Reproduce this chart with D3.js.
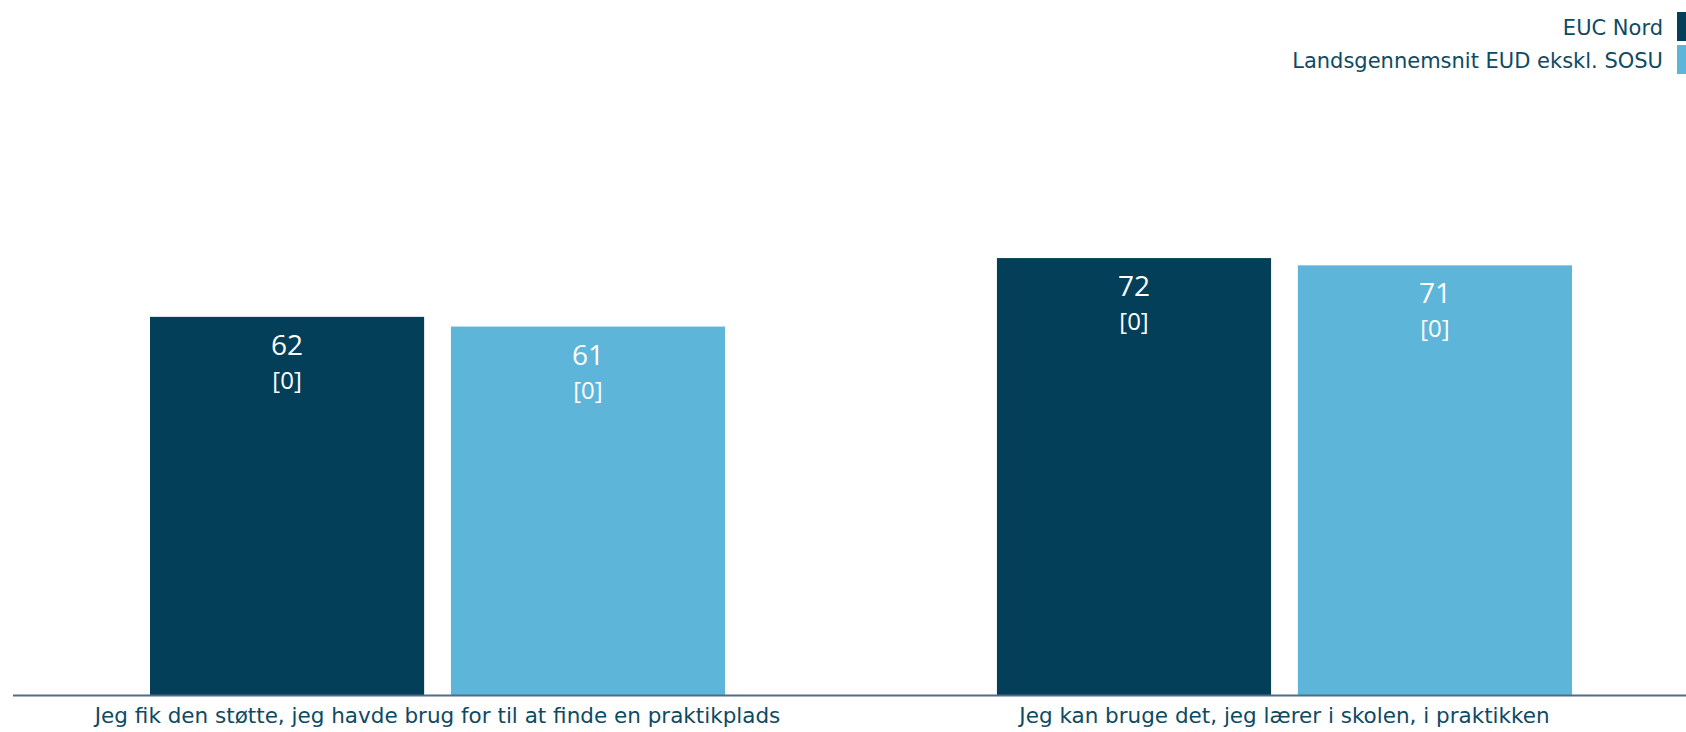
<!DOCTYPE html>
<html>
<head>
<meta charset="utf-8">
<script src="https://cdn.jsdelivr.net/npm/d3@7"></script>
<style>
  html, body { margin: 0; padding: 0; background: #ffffff; }
  svg { display: block; }
</style>
</head>
<body>
<svg id="chart" width="1686" height="732"></svg>
<script>
// ---- data ----
const categories = [
  "Jeg fik den støtte, jeg havde brug for til at finde en praktikplads",
  "Jeg kan bruge det, jeg lærer i skolen, i praktikken"
];
const seriesNames = ["EUC Nord", "Landsgennemsnit EUD ekskl. SOSU"];
const eucNord = [62.4, 72.1];
const landsgennemsnit = [60.8, 70.9];
const counts = [[0, 0], [0, 0]]; // [series][category]
const colors = ["#033f58", "#5eb5da"];

// ---- layout ----
const svg = d3.select("#chart");
const W = 1686, H = 732;
const baseY = 695;

const x0 = d3.scaleBand().domain(categories).range([150, 1572]).paddingInner(0.321);
const x1 = d3.scaleBand().domain(seriesNames).range([0, x0.bandwidth()]).paddingInner(0.089);
const y = d3.scaleLinear().domain([0, 100]).range([baseY, baseY - 606]);

const series = [eucNord, landsgennemsnit];
const rows = [];
categories.forEach((c, ci) => {
  seriesNames.forEach((s, si) => {
    rows.push({ cat: c, ser: s, si, value: series[si][ci], n: counts[si][ci] });
  });
});

const fmt = d3.format(".0f");

const g = svg.append("g");
const bars = g.selectAll("g.bar").data(rows).enter().append("g").attr("class", "bar");
bars.append("rect")
  .attr("x", d => x0(d.cat) + x1(d.ser))
  .attr("y", d => y(d.value))
  .attr("width", x1.bandwidth())
  .attr("height", d => y(0) - y(d.value))
  .attr("fill", d => colors[d.si]);

bars.append("text")
  .attr("x", d => x0(d.cat) + x1(d.ser) + x1.bandwidth() / 2)
  .attr("y", d => y(d.value) + 38)
  .attr("text-anchor", "middle")
  .attr("font-family", "'Open Sans', sans-serif")
  .attr("font-size", 28)
  .attr("fill", "#ffffff")
  .text(d => fmt(d.value));

bars.append("text")
  .attr("x", d => x0(d.cat) + x1(d.ser) + x1.bandwidth() / 2)
  .attr("y", d => y(d.value) + 72)
  .attr("text-anchor", "middle")
  .attr("font-family", "'Open Sans', sans-serif")
  .attr("font-size", 24)
  .attr("fill", "#ffffff")
  .text(d => "[" + d.n + "]");

// axis
const axisScale = d3.scaleBand().domain(categories).range(x0.range()).paddingInner(x0.paddingInner());
const axis = d3.axisBottom(axisScale).tickSize(0).tickPadding(0);
const ax = svg.append("g").attr("transform", `translate(0,${baseY})`).call(axis);
ax.select(".domain").remove();
ax.selectAll("text")
  .attr("y", 28)
  .attr("dy", null)
  .attr("font-family", "'DejaVu Sans', Verdana, sans-serif")
  .attr("font-size", 21.5)
  .attr("fill", "#0e4a63");
svg.append("line")
  .attr("x1", 13).attr("x2", W)
  .attr("y1", baseY + 0.5).attr("y2", baseY + 0.5)
  .attr("stroke", "#4f6d88").attr("stroke-width", 2);

// legend
const leg = svg.append("g");
seriesNames.forEach((s, i) => {
  leg.append("rect")
    .attr("x", 1677).attr("y", 12 + i * 33)
    .attr("width", 12).attr("height", 29)
    .attr("fill", colors[i]);
  leg.append("text")
    .attr("x", 1663).attr("y", 35 + i * 33)
    .attr("text-anchor", "end")
    .attr("font-family", "'DejaVu Sans', Verdana, sans-serif")
    .attr("font-size", 21)
    .attr("fill", "#0e4a63")
    .text(s);
});
</script>
</body>
</html>
